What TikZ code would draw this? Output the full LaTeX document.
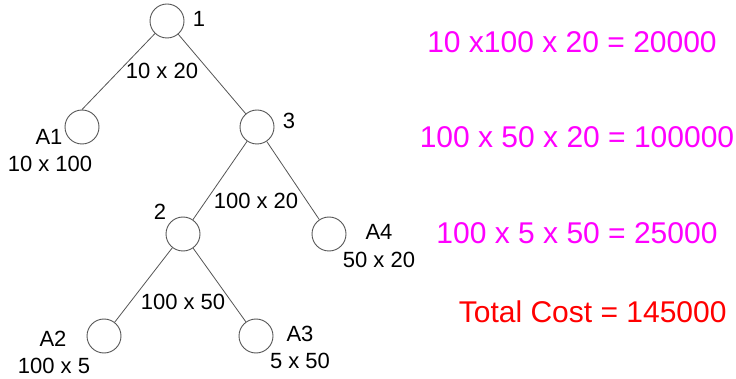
\documentclass[tikz,border=0pt]{standalone}
\usepackage{fontspec}
\setmainfont{Liberation Sans}
\definecolor{pinkc}{RGB}{255,0,255}
\definecolor{redc}{RGB}{255,0,0}
\definecolor{linec}{RGB}{85,85,85}
\begin{document}
\begin{tikzpicture}[x=1pt,y=-1pt,
  tnode/.style={circle,draw=linec,line width=0.9pt,minimum size=34pt,inner sep=0pt},
  edge/.style={draw=linec,line width=0.8pt},
  lbl/.style={anchor=base,inner sep=0pt,font=\fontsize{22}{26}\selectfont},
  cost/.style={anchor=base,inner sep=0pt,text=pinkc,font=\fontsize{30}{34}\selectfont},
  total/.style={anchor=base,inner sep=0pt,text=redc,font=\fontsize{30}{34}\selectfont}]
\useasboundingbox (0,0) rectangle (736,379);
% tree nodes
\node[tnode] (n1) at (167,21) {};
\node[tnode] (a1) at (82,127) {};
\node[tnode] (n3) at (257,127) {};
\node[tnode] (n2) at (183,234) {};
\node[tnode] (a4) at (329,234) {};
\node[tnode] (a2) at (104,336) {};
\node[tnode] (a3) at (256,336) {};
% edges
\path[edge] (n1) -- (a1.north);
\path[edge] (n1) -- (n3);
\path[edge] (n3) -- (n2);
\path[edge] (n3) -- (a4);
\path[edge] (n2) -- (a2);
\path[edge] (n2) -- (a3);
% labels
\node[lbl] (l1) at (199,26.7) {1};
\node[lbl] (l3) at (289,128.3) {3};
\node[lbl] (l2) at (160,219.3) {2};
\node[lbl] (e13) at (162,78.3) {10 x 20};
\node[lbl] (la1) at (49,145) {A1};
\node[lbl] (da1) at (50,171.7) {10 x 100};
\node[lbl] (e32) at (256,208.3) {100 x 20};
\node[lbl] (la4) at (379,240) {A4};
\node[lbl] (da4) at (379,267.3) {50 x 20};
\node[lbl] (e2) at (183,309.3) {100 x 50};
\node[lbl] (la2) at (53,346.7) {A2};
\node[lbl] (da2) at (54,373.3) {100 x 5};
\node[lbl] (la3) at (300,341.7) {A3};
\node[lbl] (da3) at (300,368.3) {5 x 50};
% costs
\node[cost] (c1) at (572,52.3) {10 x100 x 20 = 20000};
\node[cost] (c2) at (577,147.3) {100 x 50 x 20 = 100000};
\node[cost] (c3) at (577,244) {100 x 5 x 50 = 25000};
\node[total] (ct) at (592.7,322.3) {Total Cost = 145000};
\end{tikzpicture}
\end{document}
